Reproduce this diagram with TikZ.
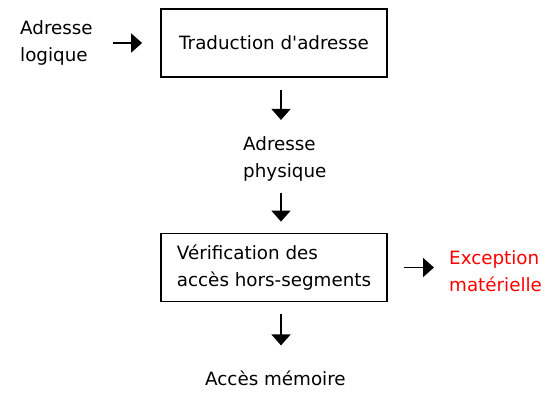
\documentclass[tikz,border=0pt]{standalone}
\usepackage{fontspec}
\setmainfont{DejaVu Sans}
\usepackage{tikz}
\usetikzlibrary{positioning}
\usetikzlibrary{calc,arrows.meta}
\usepackage{xcolor}

\begin{document}
\begin{tikzpicture}
		[   x=1pt,y=1pt,
		    tbox/.style={draw=black,line width=1.8pt,fill=white,minimum width=226pt,minimum height=68pt,align=left,inner sep=0pt},
		    txt/.style={align=left,inner sep=0pt,anchor=west},
		]
		\tikzset{normal arrow/.style={draw,line width=1.8pt,-{Triangle[width=19pt,length=11pt]}}}
		\tikzset{every node/.style={font=\fontsize{18.3}{26.5}\selectfont}}
		\useasboundingbox (0,0) rectangle (560,-402);
		
		\node[txt] (logique) at (20,-43) {Adresse\\logique};
		\node[tbox] (b-1) at (274,-43) {Traduction d\textquotesingle adresse};
		
		\node[txt] (phys) at (243,-159) {Adresse\\physique};
		
		\node[tbox] (b-2) at (274,-267.5) {V\'erification des\\acc\`es hors-segments};
		\node[txt,text=red] (exc) at (449,-271) {Exception\\mat\'erielle};
		
		\node[txt] (mem) at (205,-378) {Acc\`es m\'emoire};
		
		% fleches
		\path[normal arrow,shorten <=20pt,shorten >=18pt] (logique.east |- b-1) -- (b-1.west);
		\path[normal arrow] ([xshift=7pt,yshift=-12pt]b-1.south) -- ([xshift=7pt,yshift=-42pt]b-1.south);
		\path[normal arrow] ([xshift=7pt,yshift=40pt]b-2.north) -- ([xshift=7pt,yshift=11pt]b-2.north);
		\path[normal arrow,shorten <=16pt,shorten >=15pt] (b-2.east) -- (exc.west |- b-2);
		\path[normal arrow] ([xshift=7pt,yshift=-12pt]b-2.south) -- ([xshift=7pt,yshift=-43pt]b-2.south);
\end{tikzpicture}
\end{document}
